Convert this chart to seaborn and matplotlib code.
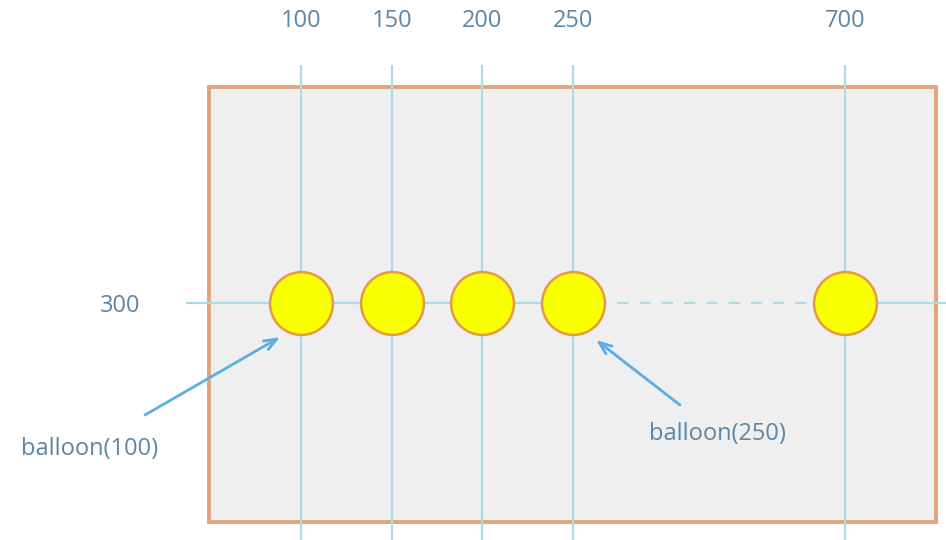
import numpy as np
import pandas as pd
import matplotlib
matplotlib.use("Agg")
import matplotlib.pyplot as plt
import seaborn as sns
from matplotlib.patches import Rectangle
from matplotlib.transforms import offset_copy

# data
balloon_x = [100, 150, 200, 250, 700]
balloon_y = [300, 300, 300, 300, 300]
x_tick_labels = ["100", "150", "200", "250", "700"]
y_ticks = [300]
y_tick_labels = ["300"]
callout_labels = ["balloon(100)", "balloon(250)"]
callout_x = [100, 250]

BREAK = 250   # od tejto hodnoty je os stlacena (250 -> 700 je skratene)
SQUEEZE = 3.0

TXT = "#5B86A6"
GRID = "#A9DCE6"
ARROW = "#5AAEE3"
FS = 17


def fwd(x):
    x = np.asarray(x, dtype=float)
    return np.where(x <= BREAK, x, BREAK + (x - BREAK) / SQUEEZE)


def inv(t):
    t = np.asarray(t, dtype=float)
    return np.where(t <= BREAK, t, BREAK + (t - BREAK) * SQUEEZE)


sns.set_style("white")
plt.rcParams["font.family"] = ["Open Sans", "DejaVu Sans"]

fig = plt.figure(figsize=(9.46, 5.4), dpi=100)
ax = fig.add_axes([186 / 946, 0, 760 / 946, 475 / 540])
ax.set_xscale("function", functions=(fwd, inv))
ax.set_xlim(36.6, 867)
ax.set_ylim(430.6, 168.8)

# platno
ax.add_patch(Rectangle((0.030, 0.038), 0.957, 0.916, transform=ax.transAxes,
                       facecolor="#EFEFEF", edgecolor="#E2A47C", lw=2.8, zorder=0.2))

ax.set_axisbelow(True)
ax.grid(axis="x", color=GRID, lw=1.6)
ax.grid(axis="y", visible=False)
for s in ax.spines.values():
    s.set_visible(False)

ax.set_xticks(balloon_x)
ax.set_xticklabels(x_tick_labels)
ax.set_yticks(y_ticks)
ax.set_yticklabels(y_tick_labels)
ax.xaxis.tick_top()
ax.tick_params(axis="x", length=0, pad=23, labelsize=FS, labelcolor=TXT)
ax.tick_params(axis="y", length=0, pad=33, labelsize=FS, labelcolor=TXT)

# horizontalna ciara, prerusena medzi 250 a 700
y0 = balloon_y[0]
ax.plot([36.6, balloon_x[3]], [y0, y0], color=GRID, lw=1.6, zorder=1)
ax.plot([balloon_x[3], balloon_x[4]], [y0, y0], color=GRID, lw=1.6, ls=(0, (5, 5)), zorder=1)
ax.plot([balloon_x[4], 867], [y0, y0], color=GRID, lw=1.6, zorder=1)

df = pd.DataFrame({"x": balloon_x, "y": balloon_y})
sns.scatterplot(data=df, x="x", y="y", s=2050, color="#F7FF00", edgecolor="#E39B45",
                linewidth=1.8, zorder=5, legend=False, ax=ax)
ax.set_xlabel("")
ax.set_ylabel("")

# popisky so sipkami (offsety v bodoch od balona)
offsets = [
    dict(tip=(-15.1, -24.5), tail=(-112.3, -80.6), text=(-151.9, -105.1)),
    dict(tip=(16.6, -26.6), tail=(77.0, -73.4), text=(103.7, -94.3)),
]
for label, bx, off in zip(callout_labels, callout_x, offsets):
    ax.annotate("", xy=(bx, y0),
                xycoords=offset_copy(ax.transData, fig=fig, x=off["tip"][0], y=off["tip"][1], units="points"),
                xytext=(bx, y0),
                textcoords=offset_copy(ax.transData, fig=fig, x=off["tail"][0], y=off["tail"][1], units="points"),
                arrowprops=dict(arrowstyle="->,head_length=0.9,head_width=0.35", color=ARROW, lw=2,
                                shrinkA=0, shrinkB=0),
                annotation_clip=False, zorder=6)
    ax.annotate(label, xy=(bx, y0), xytext=off["text"], textcoords="offset points",
                ha="center", va="center", fontsize=FS, color=TXT, annotation_clip=False)

fig.savefig("out.png", dpi=100)
